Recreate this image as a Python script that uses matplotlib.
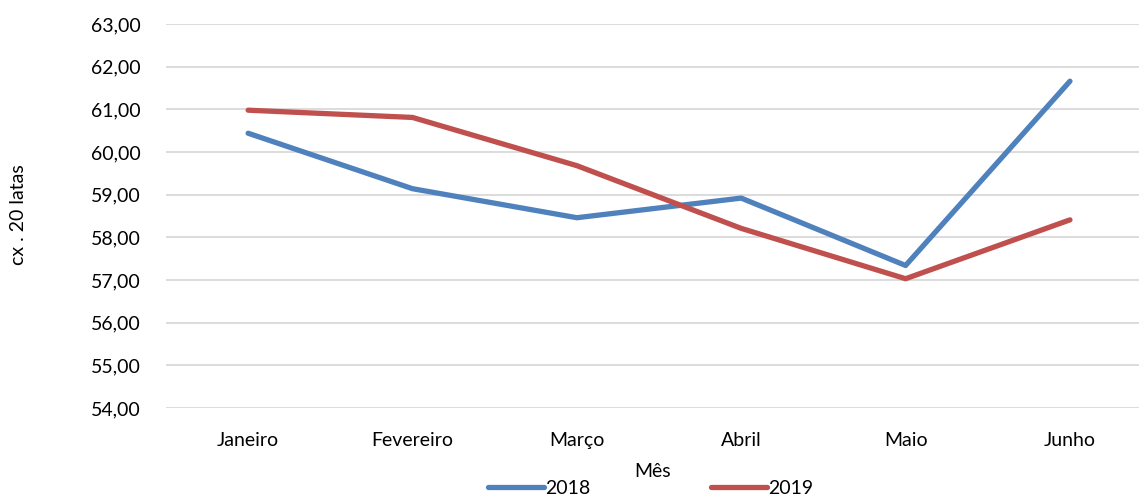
import matplotlib.pyplot as plt
from matplotlib.ticker import FuncFormatter

meses = ['Janeiro', 'Fevereiro', 'Março', 'Abril', 'Maio', 'Junho']
vendas_2018 = [60.44, 59.14, 58.46, 58.92, 57.34, 61.66]
vendas_2019 = [60.98, 60.81, 59.68, 58.21, 57.03, 58.41]

plt.rcParams['font.family'] = ['Lato', 'DejaVu Sans']
plt.rcParams['font.size'] = 14

fig = plt.figure(figsize=(11.39, 4.98), dpi=100)
ax = fig.add_axes([0.1457, 0.1807, 0.8543, 0.7711])

x = range(len(meses))
ax.plot(x, vendas_2018, color='#4F81BD', linewidth=3.8, solid_capstyle='round', label='2018')
ax.plot(x, vendas_2019, color='#C0504D', linewidth=3.8, solid_capstyle='round', label='2019')

ax.set_xlim(-0.5, 5.42)
ax.set_ylim(54, 63)
ax.set_yticks(range(54, 64))
ax.yaxis.set_major_formatter(FuncFormatter(lambda v, p: f'{v:.2f}'.replace('.', ',')))
ax.set_xticks(list(x))
ax.set_xticklabels(meses)

ax.grid(axis='y', color='#D9D9D9', linewidth=1.3)
ax.set_axisbelow(True)
for s in ax.spines.values():
    s.set_visible(False)
ax.tick_params(axis='x', length=0, pad=17)
ax.tick_params(axis='y', length=0, pad=18)

ax.set_xlabel('Mês', labelpad=10)
fig.text(0.016, 0.57, 'cx . 20 latas', rotation=90, ha='center', va='center', fontsize=14)

fig.legend(loc='center', bbox_to_anchor=(0.571, 0.02), ncol=2, frameon=False,
           handlelength=2.9, handletextpad=0.05, columnspacing=6.2, borderaxespad=0)

fig.savefig('out.png', dpi=100)
